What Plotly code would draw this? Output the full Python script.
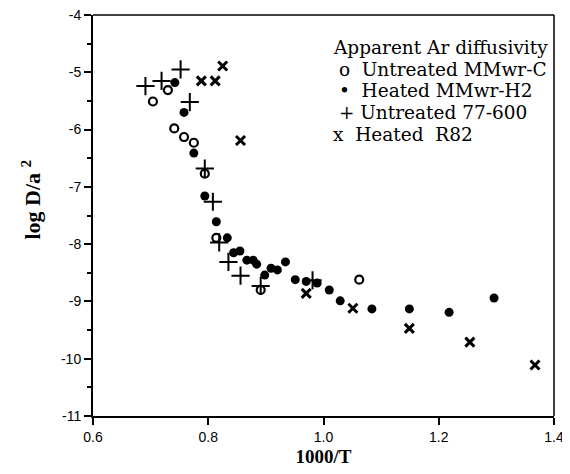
import plotly.graph_objects as go

# Untreated MMwr-C (open circles)
mmwr_c_x = [0.704, 0.730, 0.741, 0.758, 0.775, 0.794, 0.814, 0.891, 1.062]
mmwr_c_y = [-5.51, -5.31, -5.98, -6.13, -6.23, -6.77, -7.89, -8.80, -8.62]

# Heated MMwr-H2 (filled circles)
mmwr_h2_x = [0.742, 0.758, 0.775, 0.794, 0.814, 0.833, 0.844, 0.855, 0.867, 0.878,
             0.884, 0.898, 0.909, 0.920, 0.934, 0.951, 0.970, 0.989, 1.010, 1.029,
             1.084, 1.149, 1.218, 1.296]
mmwr_h2_y = [-5.18, -5.70, -6.41, -7.16, -7.61, -7.89, -8.15, -8.12, -8.28, -8.28,
             -8.35, -8.54, -8.42, -8.45, -8.31, -8.62, -8.65, -8.68, -8.80, -8.99,
             -9.13, -9.13, -9.19, -8.94]

# Untreated 77-600 (+)
s77_x = [0.691, 0.719, 0.752, 0.768, 0.794, 0.808, 0.819, 0.835, 0.856, 0.891, 0.981]
s77_y = [-5.24, -5.15, -4.95, -5.52, -6.68, -7.26, -7.97, -8.31, -8.55, -8.73, -8.63]

# Heated R82 (x)
r82_x = [0.788, 0.812, 0.825, 0.856, 0.970, 1.051, 1.149, 1.254, 1.367]
r82_y = [-5.15, -5.15, -4.89, -6.19, -8.86, -9.12, -9.47, -9.71, -10.11]

x_ticks = [0.6, 0.8, 1.0, 1.2, 1.4]
x_ticktext = ["0.6", "0.8", "1.0", "1.2", "1.4"]
y_ticks = [-4, -5, -6, -7, -8, -9, -10, -11]
y_ticktext = ["-4", "-5", "-6", "-7", "-8", "-9", "-10", "-11"]

legend_lines = ["Apparent Ar diffusivity", " o  Untreated MMwr-C", " \u2022  Heated MMwr-H2",
                " + Untreated 77-600", "x  Heated  R82"]

# the page body adds an 8px margin, so the figure is 8px smaller and
# pixel positions below are page positions minus 8
OFF = 8
W, H = 570 - OFF, 474 - OFF
L, R, T, B = 92.5 - OFF, 554 - OFF, 15 - OFF, 416 - OFF


def px_x(p):
    return (p - OFF - L) / (R - L)


def px_y(p):
    return 1 - (p - OFF - T) / (B - T)


fig = go.Figure()
fig.add_trace(go.Scatter(x=mmwr_c_x, y=mmwr_c_y, mode="markers",
                         marker=dict(symbol="circle-open", size=8, color="black",
                                     line=dict(width=2.2))))
fig.add_trace(go.Scatter(x=mmwr_h2_x, y=mmwr_h2_y, mode="markers",
                         marker=dict(symbol="circle", size=9, color="black")))
fig.add_trace(go.Scatter(x=s77_x, y=s77_y, mode="markers",
                         marker=dict(symbol="cross-thin", size=13, color="black",
                                     line=dict(width=2, color="black"))))
fig.add_trace(go.Scatter(x=r82_x, y=r82_y, mode="markers",
                         marker=dict(symbol="x-thin", size=9, color="black",
                                     line=dict(width=3, color="black"))))

serif = "DejaVu Serif, serif"
times = "Liberation Serif, Times New Roman, serif"
legend_y = [47, 69, 91, 112, 134]
for line, yy in zip(legend_lines, legend_y):
    fig.add_annotation(x=px_x(331), y=px_y(yy), xref="x domain", yref="y domain",
                       text=line, showarrow=False, xanchor="left", yanchor="middle",
                       font=dict(family=serif, size=18.5, color="black"))

# y axis title
fig.add_annotation(x=px_x(30), y=px_y(200), xref="x domain", yref="y domain",
                   text="<b>log D/a <sup>2</sup></b>", showarrow=False, textangle=-90,
                   xanchor="center", yanchor="middle",
                   font=dict(family=times, size=22, color="black"))

# thinner top and right frame lines
fig.add_shape(type="line", xref="x domain", yref="y domain", x0=0, x1=1, y0=1, y1=1,
              line=dict(color="black", width=1.5))
fig.add_shape(type="line", xref="x domain", yref="y domain", x0=1, x1=1, y0=0, y1=1,
              line=dict(color="black", width=1.5))

fig.update_xaxes(range=[0.6, 1.4], tickvals=x_ticks, ticktext=x_ticktext, automargin=False,
                 ticklabeloverflow="allow",
                 showline=True, linecolor="black", linewidth=2,
                 ticks="outside", ticklen=7, tickwidth=1.5, tickcolor="black",
                 showgrid=False, zeroline=False,
                 tickfont=dict(family="Liberation Sans, Arial", size=14, color="black"),
                 title=dict(text="<b>1000/T</b>", font=dict(family=times, size=19, color="black"),
                            standoff=6))
fig.update_yaxes(range=[-11, -4], tickvals=y_ticks, ticktext=y_ticktext, automargin=False,
                 ticklabeloverflow="allow",
                 showline=True, linecolor="black", linewidth=2,
                 ticks="outside", ticklen=7, tickwidth=1.5, tickcolor="black",
                 minor=dict(dtick=0.5, ticks="outside", ticklen=4, tickcolor="black", tickwidth=1.5),
                 showgrid=False, zeroline=False,
                 tickfont=dict(family="Liberation Sans, Arial", size=14, color="black"))

fig.update_layout(width=W, height=H, showlegend=False,
                  margin=dict(l=L, r=W - R, t=T, b=H - B),
                  plot_bgcolor="white", paper_bgcolor="white")

fig.write_html("out.html")
